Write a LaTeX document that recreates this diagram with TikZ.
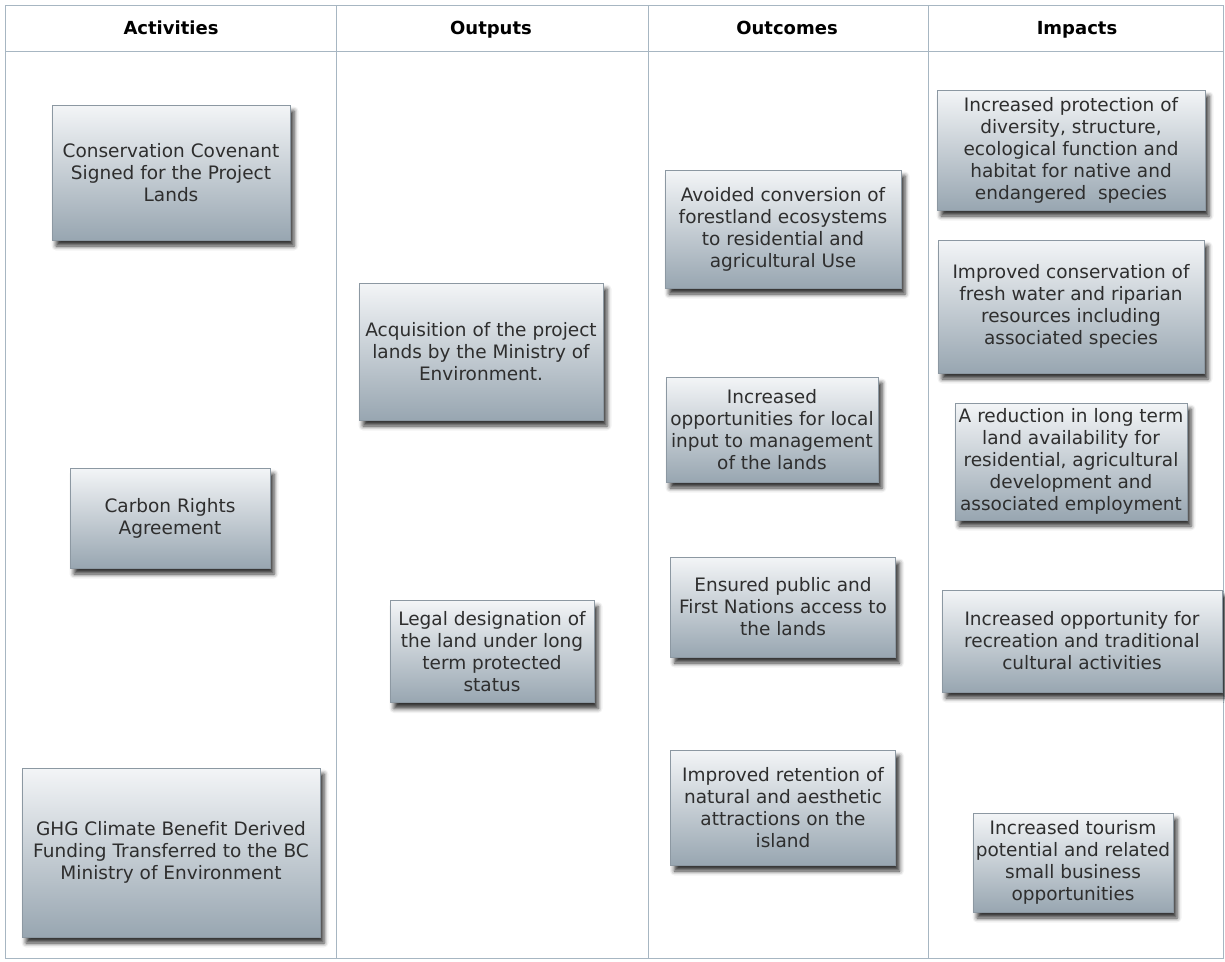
\documentclass[tikz,border=0pt]{standalone}
\usepackage{fontspec}
\setmainfont{DejaVu Sans}[Ligatures={NoCommon}]
\usetikzlibrary{shadows.blur}
\definecolor{gridln}{HTML}{A7B6C2}
\definecolor{boxtop}{HTML}{F3F5F7}
\definecolor{boxbot}{HTML}{98A6B1}
\definecolor{boxln}{HTML}{8C98A2}
\definecolor{txt}{HTML}{2E2E2E}
\tikzset{
  colhead/.style={font=\bfseries\fontsize{18}{22}\selectfont, text=black, anchor=base},
  lbox/.style={draw=boxln, line width=0.6pt, top color=boxtop, bottom color=boxbot,
    align=center, text=txt, inner sep=0pt,
    font=\fontsize{18.5}{22}\selectfont,
    blur shadow={shadow xshift=4pt, shadow yshift=-6pt, shadow blur radius=4.5pt, shadow opacity=80}},
}
\begin{document}
\begin{tikzpicture}[x=1pt,y=-1pt]
\useasboundingbox (0,0) rectangle (1225,961);
% table
\draw[gridln, line width=0.9pt] (5,5) rectangle (1223,958);
\draw[gridln, line width=0.9pt] (5,51)--(1223,51);
\foreach \xc in {336,648,928}
  \draw[gridln, line width=0.9pt] (\xc,5)--(\xc,958);
\node[colhead] (hAct) at (171,34) {Activities};
\node[colhead] (hOut) at (491,34) {Outputs};
\node[colhead] (hOc) at (787,34) {Outcomes};
\node[colhead] (hImp) at (1077,34) {Impacts};
% activities
\node[lbox, minimum width=238, minimum height=135] (aCov) at (171,172.5)
  {Conservation Covenant\\Signed for the Project\\Lands};
\node[lbox, minimum width=200, minimum height=100] (aCarb) at (170,518)
  {Carbon Rights\\Agreement};
\node[lbox, minimum width=298, minimum height=169] (aGhg) at (171,852.5)
  {GHG Climate Benefit Derived\\Funding Transferred to the BC\\Ministry of Environment};
% outputs
\node[lbox, minimum width=244, minimum height=137] (oAcq) at (481,351.5)
  {Acquisition of the project\\lands by the Ministry of\\Environment.};
\node[lbox, minimum width=204, minimum height=102] (oLeg) at (492,651.5)
  {Legal designation of\\the land under long\\term protected\\status};
% outcomes
\node[lbox, minimum width=236, minimum height=118] (cAvo) at (783,229)
  {Avoided conversion of\\forestland ecosystems\\to residential and\\agricultural Use};
\node[lbox, minimum width=212, minimum height=105] (cLoc) at (772,429.5)
  {Increased\\opportunities for local\\input to management\\of the lands};
\node[lbox, minimum width=225, minimum height=100] (cAcc) at (783,607)
  {Ensured public and\\First Nations access to\\the lands};
\node[lbox, minimum width=225, minimum height=115] (cRet) at (783,807.5)
  {Improved retention of\\natural and aesthetic\\attractions on the\\island};
% impacts
\node[lbox, minimum width=268, minimum height=120] (iPro) at (1071,150)
  {Increased protection of\\diversity, structure,\\ecological function and\\habitat for native and\\endangered\ \ species};
\node[lbox, minimum width=266, minimum height=133] (iWat) at (1071,306.5)
  {Improved conservation of\\fresh water and riparian\\resources including\\associated species};
\node[lbox, minimum width=232, minimum height=117] (iRed) at (1071,461.5)
  {A reduction in long term\\land availability for\\residential, agricultural\\development and\\associated employment};
\node[lbox, minimum width=280, minimum height=102] (iRec) at (1082,641)
  {Increased opportunity for\\recreation and traditional\\cultural activities};
\node[lbox, minimum width=200, minimum height=99] (iTou) at (1073,862.5)
  {Increased tourism\\potential and related\\small business\\opportunities};
\end{tikzpicture}
\end{document}
